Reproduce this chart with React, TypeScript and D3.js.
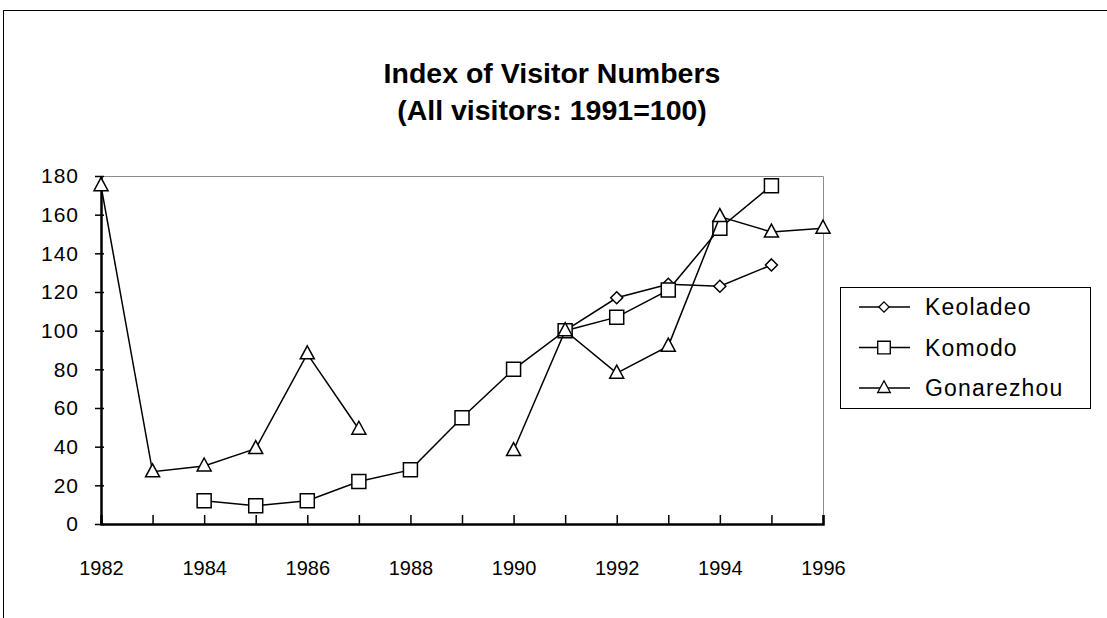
import React, { useRef, useEffect } from 'react';
import * as d3 from 'd3';

const years = d3.range(1982, 1997);
const keoladeo: (number | null)[] = [null, null, null, null, null, null, null, null, null, 100, 117, 124, 123, 134, null];
const komodo: (number | null)[] = [null, null, 12, 9.5, 12, 22, 28, 55, 80, 100, 107, 121, 153, 175, null];
const gonarezhou: (number | null)[] = [175, 27, 30, 39, 88, 49, null, null, 38, 100, 78, 92, 159, 151, 153];
const seriesNames = ['Keoladeo', 'Komodo', 'Gonarezhou'];
const markerTypes = ['diamond', 'square', 'triangle'];
const yTicks = [0, 20, 40, 60, 80, 100, 120, 140, 160, 180];
const titleLines = ['Index of Visitor Numbers', '(All visitors: 1991=100)'];

const FONT = '"Liberation Sans", Arial, sans-serif';

function markerPath(type: string): string {
    if (type === 'diamond') return 'M0,-6L6,0L0,6L-6,0Z';
    if (type === 'square') return 'M-7,-7H7V7H-7Z';
    return 'M0,-8L7,5H-7Z';
}

const App: React.FC = () => {
    const svgRef = useRef<SVGSVGElement | null>(null);

    useEffect(() => {
        if (!svgRef.current) return;
        const width = 1107;
        const height = 618;
        const margin = { top: 176, right: 284, bottom: 94, left: 101 };

        const svg = d3.select(svgRef.current);
        svg.selectAll('*').remove();

        // outer frame
        svg.append('rect')
            .attr('x', 3.5).attr('y', 10.5)
            .attr('width', width + 10).attr('height', height + 10)
            .attr('fill', 'white').attr('stroke', 'black').attr('stroke-width', 1);

        const x = d3.scaleLinear().domain([1982, 1996]).range([margin.left, width - margin.right]);
        const y = d3.scaleLinear().domain([0, 180]).range([height - margin.bottom, margin.top]);

        // title
        svg.append('g').selectAll('text')
            .data(titleLines)
            .join('text')
            .attr('x', 552)
            .attr('y', (_d, i) => 73 + i * 37)
            .attr('dy', '0.35em')
            .attr('text-anchor', 'middle')
            .attr('font-family', FONT)
            .attr('font-weight', 'bold')
            .attr('font-size', 28.5)
            .text(d => d);

        // plot border (top / right)
        svg.append('path')
            .attr('d', `M${x(1982)},${y(180) + 0.5}H${x(1996) + 0.5}V${y(0)}`)
            .attr('fill', 'none').attr('stroke', '#8c8c8c').attr('stroke-width', 1);

        // x axis
        const xAxis = svg.append('g')
            .attr('transform', `translate(0,${y(0)})`)
            .call(
                d3.axisBottom(x)
                    .tickValues(years)
                    .tickSize(-9)
                    .tickPadding(37)
                    .tickFormat(d => (+d % 2 === 0 ? String(d) : ''))
            );
        xAxis.select('.domain').attr('stroke-width', 2.5);
        xAxis.selectAll('.tick line').attr('stroke-width', 1.5);
        xAxis.selectAll('text').attr('font-family', FONT).attr('font-size', 20).attr('fill', 'black');

        // y axis
        const yAxis = svg.append('g')
            .attr('transform', `translate(${margin.left},0)`)
            .call(d3.axisLeft(y).tickValues(yTicks).tickSizeInner(6).tickSizeOuter(0).tickPadding(16));
        yAxis.select('.domain').attr('stroke-width', 2.5);
        yAxis.selectAll('.tick line').attr('x2', 3).attr('x1', -6).attr('stroke-width', 1.5);
        yAxis.selectAll('text')
            .attr('font-family', FONT)
            .attr('font-size', 21)
            .attr('letter-spacing', 1)
            .attr('fill', 'black');

        const allSeries = [keoladeo, komodo, gonarezhou];

        const line = d3.line<[number, number | null]>()
            .defined(d => d[1] !== null)
            .x(d => x(d[0]))
            .y(d => y(d[1] as number));

        allSeries.forEach((vals, si) => {
            const pts = years.map((yr, i) => [yr, vals[i]] as [number, number | null]);
            const g = svg.append('g');
            g.append('path')
                .datum(pts)
                .attr('d', line)
                .attr('fill', 'none')
                .attr('stroke', 'black')
                .attr('stroke-width', 1.5);
            g.selectAll('path.mk')
                .data(pts.filter(p => p[1] !== null))
                .join('path')
                .attr('class', 'mk')
                .attr('d', markerPath(markerTypes[si]))
                .attr('transform', d => `translate(${x(d[0])},${y(d[1] as number)})`)
                .attr('fill', 'white')
                .attr('stroke', 'black')
                .attr('stroke-width', 1.5);
        });

        // legend
        const legend = svg.append('g');
        legend.append('rect')
            .attr('x', 840.5).attr('y', 287.5)
            .attr('width', 250).attr('height', 121)
            .attr('fill', 'white').attr('stroke', 'black').attr('stroke-width', 1);
        const items = legend.selectAll('g.item')
            .data(seriesNames)
            .join('g')
            .attr('class', 'item')
            .attr('transform', (_d, i) => `translate(0,${307 + i * 40.5})`);
        items.append('line')
            .attr('x1', 859).attr('x2', 910)
            .attr('stroke', 'black').attr('stroke-width', 1.5);
        items.append('path')
            .attr('d', (_d, i) => markerPath(markerTypes[i]))
            .attr('transform', (_d, i) => `translate(884,0) scale(${i === 0 ? 0.85 : 0.9})`)
            .attr('fill', 'white').attr('stroke', 'black').attr('stroke-width', 1.5);
        items.append('text')
            .attr('x', 925)
            .attr('dy', '0.35em')
            .attr('font-family', FONT)
            .attr('font-size', 23)
            .attr('letter-spacing', 1.2)
            .text(d => d);
    }, []);

    return (
        <svg
            ref={svgRef}
            width={1107}
            height={618}
            style={{ position: 'absolute', left: 0, top: 0, background: 'white' }}
        />
    );
};

export default App;
